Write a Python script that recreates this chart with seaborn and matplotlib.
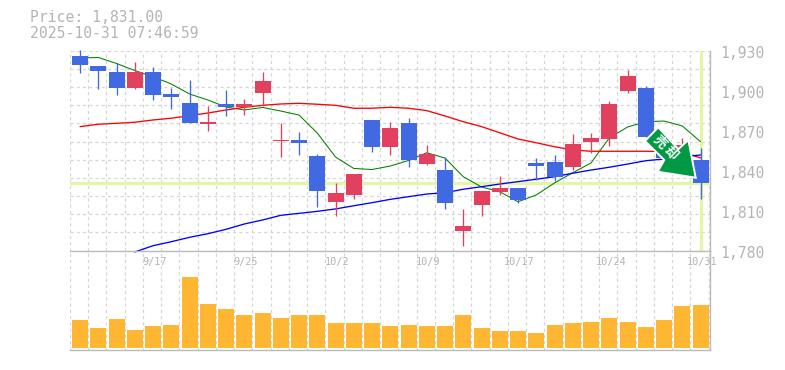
import matplotlib
matplotlib.use('Agg')
import matplotlib.pyplot as plt
import numpy as np
import seaborn as sns
from matplotlib.patches import Polygon
from matplotlib.transforms import Affine2D

# OHLC, one entry per session
opens = [1926, 1918.5, 1914, 1902, 1914, 1897.5, 1890.7, 1875, 1890, 1887.7, 1898.2, 1862.2, 1863, 1851, 1816.4, 1821.7, 1878, 1857.7,
         1876, 1845, 1840.4, 1794.6, 1814.2, 1824, 1827, 1845.7, 1846.4, 1842.7, 1861.5, 1863.7, 1899.7, 1902, 1863, 1848, 1848]
closes = [1919.3, 1914.8, 1902, 1914, 1896.8, 1895.2, 1875.7, 1876.5, 1887.7, 1890, 1907.3, 1863, 1860.7, 1824.7, 1823.2, 1837.4, 1857.7, 1872,
          1848, 1852.5, 1815.7, 1798.4, 1824.7, 1827, 1818, 1843.4, 1835.2, 1860, 1864.5, 1890, 1911, 1865.2, 1849.5, 1859, 1831]
highs = [1930.5, 1918.5, 1920.8, 1921.5, 1917.8, 1902, 1908, 1888.5, 1900.5, 1893.7, 1914, 1875.7, 1869, 1852.5, 1830.7, 1837.4, 1878, 1876.5,
         1879.5, 1859.2, 1850.2, 1811.2, 1824.7, 1836, 1827, 1849.4, 1851.7, 1867.5, 1868.2, 1892.2, 1915.5, 1903.5, 1865, 1864.5, 1857]
lows = [1913.3, 1901.3, 1896.8, 1901.3, 1893, 1886.2, 1875.7, 1869.7, 1881, 1881.7, 1888.5, 1850.2, 1851.7, 1812.7, 1805.9, 1818.7, 1854, 1851.7,
        1842.7, 1844.2, 1811.2, 1783.4, 1805.9, 1821.7, 1815.7, 1833, 1832.2, 1840.4, 1853.2, 1858.5, 1898.2, 1865.2, 1845, 1845, 1818.7]

# Moving averages
ma_short = [1924.5, 1924.9, 1920.4, 1915.1, 1910.5, 1905, 1897.5, 1893, 1887.7, 1885.5, 1887.4, 1884.7, 1881.7, 1868.2, 1850.2, 1841.6, 1840.8, 1843.4,
            1847.6, 1853.4, 1849.4, 1835.4, 1827.7, 1824.1, 1816.6, 1821.7, 1830.7, 1838.4, 1845.7, 1864.5, 1872.7, 1876.7, 1877.2, 1873.5, 1861.7]
ma_mid = [1873, 1874.8, 1875.5, 1876.3, 1878, 1879.3, 1881.2, 1883.2, 1885.5, 1887.5, 1889, 1890, 1890.5, 1889.8, 1889, 1886.8, 1886.8, 1887.5,
          1886.8, 1885, 1881, 1876.7, 1873, 1868.4, 1863.7, 1860.9, 1857.9, 1855.5, 1854.5, 1854.5, 1854.5, 1854.5, 1854.3, 1854, 1849.5]
ma_long = [np.nan, np.nan, np.nan, 1778.9, 1783.6, 1786.6, 1789.9, 1792.6, 1795.9, 1799.9, 1802.9, 1806.4, 1807.9, 1809.4, 1811.2, 1813.6, 1815.9, 1818.4,
           1820.4, 1822.4, 1823.4, 1826, 1827.9, 1829.9, 1831.7, 1833.5, 1835.4, 1838, 1840.4, 1842.5, 1844.9, 1847.4, 1848.7, 1850.4, 1851.7]

volume = [28, 20, 29, 18, 22, 23, 71, 44, 39, 33, 35, 30, 33, 33, 25, 25, 25, 22, 23, 22,
          22, 33, 20, 17, 17, 15, 23, 25, 26, 30, 26, 21, 28, 42, 43]

date_pos = [4, 9, 14, 19, 24, 29, 34]
date_labels = ['9/17', '9/25', '10/2', '10/9', '10/17', '10/24', '10/31']
price_ticks = [1930, 1900, 1870, 1840, 1810, 1780]
price_labels = ['1,930', '1,900', '1,870', '1,840', '1,810', '1,780']
last_price = 1831

BLUE = '#4169e1'
RED = '#e2405f'
GRID = '#d6d6d6'
AXIS = '#bbbbbb'
TEXT = '#b4b4b4'
HILITE = '#e3f5a8'
ORANGE = '#ffb733'
W, H = 785, 370

sns.set_style('white')
plt.rcParams['font.family'] = ['DejaVu Sans Mono']

fig = plt.figure(figsize=(W / 100, H / 100), dpi=100)


def panel(left, top, right, bottom):
    return fig.add_axes([left / W, 1 - bottom / H, (right - left) / W, (bottom - top) / H])


ax = panel(70, 50.7, 710, 250.5)
ax_vol = panel(70, 250.5, 710, 350)

idx = np.arange(len(opens))
xlim = (-0.55, 34.52)
edges = np.arange(36) - 0.55

for a in (ax, ax_vol):
    a.set_xlim(*xlim)
    a.set_facecolor('none')
    a.set_xticks(edges, minor=True)
    a.set_xticks([])
    a.grid(True, which='minor', axis='x', color=GRID, linestyle=(0, (2.5, 2.5)), linewidth=0.9)
    a.set_axisbelow(True)
    a.tick_params(which='both', length=0, labelleft=False, labelbottom=False)
    for s in ('left', 'top'):
        a.spines[s].set_visible(False)
    for s in ('right', 'bottom'):
        a.spines[s].set_color(AXIS)
        a.spines[s].set_linewidth(1)

ax.set_ylim(1780, 1930)
ax.set_yticks(np.linspace(1780, 1930, 12), minor=True)
ax.set_yticks([])
ax.grid(True, which='minor', axis='y', color=GRID, linestyle=(0, (2.5, 2.5)), linewidth=0.9)

# Last price crosshair
ax.axhline(last_price, color=HILITE, linewidth=2.4, zorder=1)
ax.axvline(idx[-1], color=HILITE, linewidth=2.4, zorder=1, ymax=0.995)

# Moving averages sit under the candles
sns.lineplot(x=idx, y=ma_short, ax=ax, color='#008000', linewidth=0.75, zorder=2)
sns.lineplot(x=idx, y=ma_mid, ax=ax, color='#ff0000', linewidth=0.95, zorder=2)
sns.lineplot(x=idx, y=ma_long, ax=ax, color='#0000ff', linewidth=0.95, zorder=2, clip_on=False)

# Candles: red closes up, blue closes down
o, c, hi, lo = map(np.array, (opens, closes, highs, lows))
colors = [RED if u else BLUE for u in c >= o]
ax.vlines(idx, lo, hi, colors=colors, linewidth=0.95, zorder=3, clip_on=False)
ax.bar(idx, np.abs(c - o), bottom=np.minimum(o, c), width=16 / 18.25, color=colors, linewidth=0, zorder=4)

ax.set_xlim(*xlim)
ax.set_ylim(1780, 1930)

for val, lab in zip(price_ticks, price_labels):
    ax.annotate(lab, xy=(1, val), xycoords=ax.get_yaxis_transform(), xytext=(7.5, -1.8), textcoords='offset points',
                va='center', ha='left', fontsize=10.6, color=TEXT, annotation_clip=False)

# Volume
sns.barplot(x=idx, y=volume, ax=ax_vol, native_scale=True, color=ORANGE, saturation=1, width=16 / 18.25, linewidth=0, zorder=2)
ax_vol.set_xlim(*xlim)
ax_vol.set_ylim(-2.3, 97.2)
ax_vol.set_xlabel('')
ax_vol.set_ylabel('')
ax_vol.tick_params(which='both', length=0, labelleft=False, labelbottom=False)

for p, lab in zip(date_pos, date_labels):
    ax_vol.annotate(lab, xy=(p, 1), xycoords=ax_vol.get_xaxis_transform(), xytext=(1, -8.5), textcoords='offset points',
                    va='center', ha='center', fontsize=7.4, color=TEXT, annotation_clip=False)

# Header
fig.text(30 / W, 1 - 18 / H, 'Price: 1,831.00', fontsize=10.6, color=TEXT, va='center', ha='left')
fig.text(30 / W, 1 - 33 / H, '2025-10-31 07:46:59', fontsize=10.6, color=TEXT, va='center', ha='left')

# Sell arrow badge, in picture pixels
px = Affine2D().scale(1, -1).translate(0, H)
arrow = [(658.3, 127.3), (645, 141), (664.3, 160), (657.7, 171.7), (695.7, 177.7), (688.3, 140), (678.3, 149.3)]
fig.add_artist(Polygon(arrow, closed=True, transform=px, facecolor='#009944', edgecolor='white', linewidth=1.4, joinstyle='miter', zorder=10))
fig.text(660 / W, 1 - 142 / H, '売', family=['Noto Sans CJK JP', 'DejaVu Sans'], fontsize=9.5, fontweight='bold', color='white',
         rotation=-45, rotation_mode='anchor', ha='center', va='center', zorder=11)
fig.text(671 / W, 1 - 153 / H, '却', family=['Noto Sans CJK JP', 'DejaVu Sans'], fontsize=9.5, fontweight='bold', color='white',
         rotation=-45, rotation_mode='anchor', ha='center', va='center', zorder=11)

fig.savefig('out.png', dpi=100, facecolor='white')
